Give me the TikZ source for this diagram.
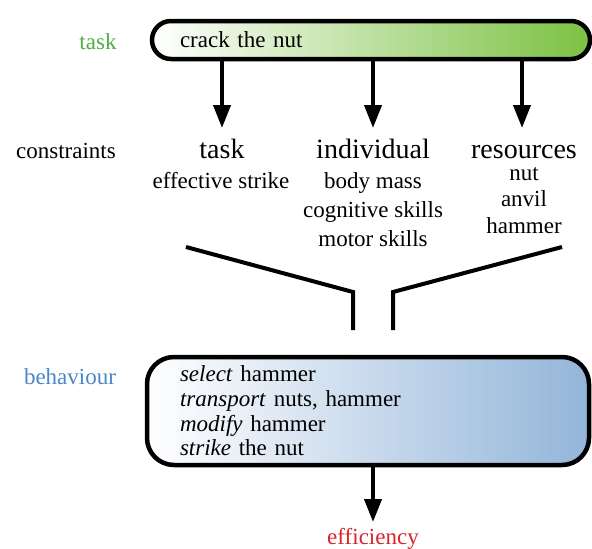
\documentclass[tikz,border=0pt]{standalone}
\usepackage{fontspec}
\setmainfont{Liberation Serif}
\usetikzlibrary{arrows.meta}
\definecolor{boxgreen}{RGB}{124,193,66}
\definecolor{boxblue}{RGB}{147,181,217}
\definecolor{labgreen}{RGB}{80,172,72}
\definecolor{labblue}{RGB}{74,134,200}
\definecolor{labred}{RGB}{212,38,44}
\tikzset{
  lab/.style={font=\fontsize{23}{25}\selectfont, anchor=base},
  head/.style={font=\fontsize{28}{30}\selectfont, anchor=base},
  item/.style={font=\fontsize{23}{25}\selectfont, anchor=base},
  arr/.style={line width=4pt, -{Triangle[width=17pt,length=23pt]}},
  funnel/.style={line width=4pt},
}
\begin{document}
\begin{tikzpicture}[x=1pt,y=-1pt]
\useasboundingbox (0,0) rectangle (592,549);
% top box
\node (top) [draw, line width=4.5pt, rounded corners=19pt,
  left color=white, middle color=boxgreen!50!white, right color=boxgreen,
  minimum width=438pt, minimum height=38pt, inner xsep=28pt, inner ysep=0pt,
  text width=382pt, align=left, font=\fontsize{23}{25}\selectfont]
  at (371,40) {crack the nut};
\node (ltask) [lab, text=labgreen] at (98,49) {task};
% constraints
\node (lcons) [lab] at (66,158) {constraints};
\node (htask) [head] at (222,158) {task};
\node (hind) [head] at (373,158) {individual};
\node (hres) [head] at (524,158) {resources};
\node (t1) [item] at (221,188) {effective strike};
\node (i1) [item] at (373,188) {body mass};
\node (i2) [item] at (373,217) {cognitive skills};
\node (i3) [item] at (373,246) {motor skills};
\node (r1) [item] at (524,180) {nut};
\node (r2) [item] at (524,206) {anvil};
\node (r3) [item] at (524,233) {hammer};
% arrows from top box
\coordinate (a1) at (222,128);
\coordinate (a2) at (373,128);
\coordinate (a3) at (522,128);
\draw[arr] (top.south -| a1) -- (a1);
\draw[arr] (top.south -| a2) -- (a2);
\draw[arr] (top.south -| a3) -- (a3);
% funnel
\coordinate (fl1) at (186,247);
\coordinate (fl2) at (353,292);
\coordinate (fl3) at (353,330);
\coordinate (fr1) at (562,247);
\coordinate (fr2) at (393,292);
\coordinate (fr3) at (393,330);
\draw[funnel] (fl1) -- (fl2) -- (fl3);
\draw[funnel] (fr1) -- (fr2) -- (fr3);
% behaviour box
\node (beh) [draw, line width=4.5pt, rounded corners=27pt,
  left color=white, middle color=boxblue!50!white, right color=boxblue,
  minimum width=442pt, minimum height=108pt, inner xsep=33pt, inner ysep=0pt,
  text width=376pt, align=left, font=\fontsize{23}{24.7}\selectfont]
  at (368,411) {\textit{select} hammer\\\textit{transport} nuts, hammer\\\textit{modify} hammer\\\textit{strike} the nut};
\node (lbeh) [lab, text=labblue] at (70,384) {behaviour};
\node (eff) [lab, text=labred] at (373,544) {efficiency};
\coordinate (a4) at (373,522);
\draw[arr] (beh.south -| a4) -- (a4);
\end{tikzpicture}
\end{document}
